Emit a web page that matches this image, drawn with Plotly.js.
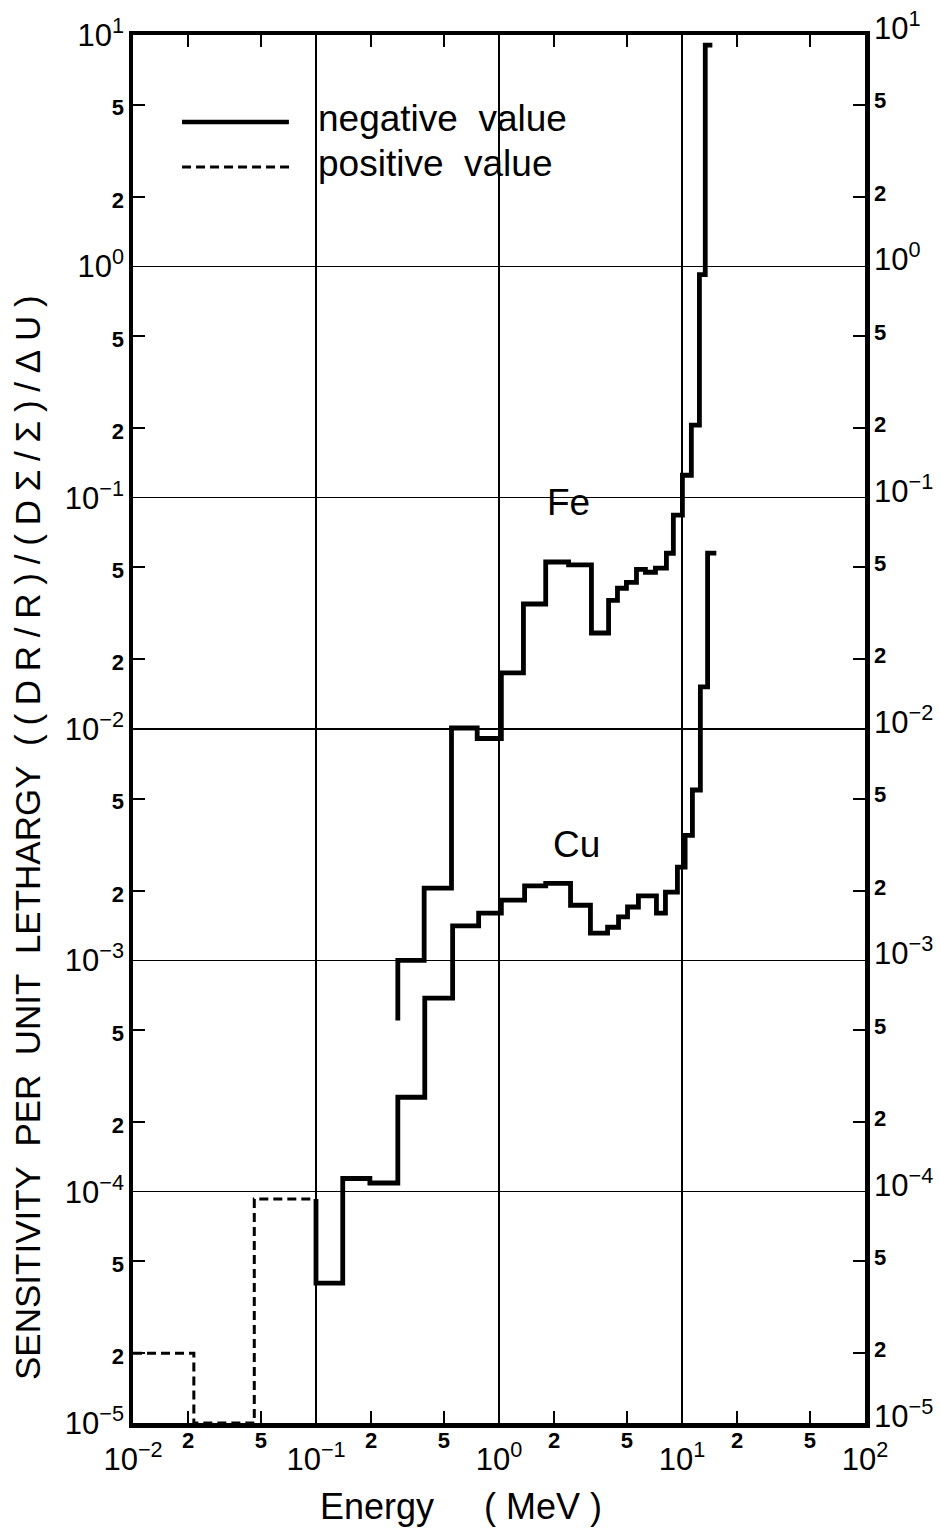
<!DOCTYPE html>
<html>
<head>
<meta charset="utf-8">
<script src="https://cdn.plot.ly/plotly-3.0.1.min.js"></script>
<style>
  html, body { margin: 0; padding: 0; background: #fff; }
  #chart { width: 940px; height: 1535px; }
</style>
</head>
<body>
<div id="chart"></div>
<script>
// Group boundaries (MeV) and sensitivity per unit lethargy, Fe (negative values)
const feEdges = [0.28, 0.39, 0.55, 0.76, 1.03, 1.36, 1.80, 2.40, 3.20, 3.97, 4.44,
                 4.97, 5.64, 6.31, 7.16, 8.22, 8.97, 10.05, 11.25, 12.45, 13.4, 14.65];
const feValues = [1.0e-3, 2.05e-3, 1.01e-2, 9.1e-3, 1.75e-2, 3.47e-2, 5.27e-2, 5.12e-2,
                  2.6e-2, 3.6e-2, 4.06e-2, 4.3e-2, 4.9e-2, 4.76e-2, 4.96e-2, 5.75e-2,
                  8.4e-2, 0.125, 0.206, 0.92, 9.05];
const feStart = 5.5e-4;

// Cu, negative part (above 0.1 MeV)
const cuEdges = [0.1, 0.14, 0.197, 0.28, 0.393, 0.558, 0.774, 1.03, 1.38, 1.80, 2.46,
                 3.16, 3.92, 4.50, 5.04, 5.78, 7.25, 8.12, 9.44, 10.4, 11.4, 12.6, 13.8, 15.4];
const cuValues = [4.02e-5, 1.14e-4, 1.09e-4, 2.56e-4, 6.87e-4, 1.41e-3, 1.60e-3, 1.82e-3,
                  2.10e-3, 2.15e-3, 1.73e-3, 1.31e-3, 1.39e-3, 1.54e-3, 1.70e-3, 1.90e-3,
                  1.60e-3, 1.97e-3, 2.53e-3, 3.47e-3, 5.45e-3, 1.52e-2, 5.76e-2];

// Cu, positive part (below 0.1 MeV)
const cuPosEdges = [0.01, 0.0215, 0.046, 0.1];
const cuPosValues = [2.0e-5, 1.0e-5, 9.3e-5];

// Axis ticks
const xMajorVals = [0.01, 0.1, 1, 10, 100];
const xMajorText = ['10<sup>\u22122</sup>', '10<sup>\u22121</sup>', '10<sup>0</sup>', '10<sup>1</sup>', '10<sup>2</sup>'];
const xMinorVals = [0.02, 0.05, 0.2, 0.5, 2, 5, 20, 50];
const xMinorText = ['2', '5', '2', '5', '2', '5', '2', '5'];
const yMajorVals = [1e-5, 1e-4, 1e-3, 1e-2, 1e-1, 1, 10];
const yMajorText = ['10<sup>\u22125</sup>', '10<sup>\u22124</sup>', '10<sup>\u22123</sup>', '10<sup>\u22122</sup>',
                    '10<sup>\u22121</sup>', '10<sup>0</sup>', '10<sup>1</sup>'];
const yMinorVals = [2e-5, 5e-5, 2e-4, 5e-4, 2e-3, 5e-3, 2e-2, 5e-2, 0.2, 0.5, 2, 5];
const yMinorText = ['2', '5', '2', '5', '2', '5', '2', '5', '2', '5', '2', '5'];

const FONT = 'Liberation Sans, Arial, Helvetica, sans-serif';
const INK = '#000';

// Turn group edges + values into the corner points of a histogram-style step line
function stepLine(edges, values, start) {
  const x = [], y = [];
  if (start !== undefined) { x.push(edges[0]); y.push(start); }
  for (let i = 0; i < values.length; i++) {
    x.push(edges[i], edges[i + 1]);
    y.push(values[i], values[i]);
  }
  return { x, y };
}

const fe = stepLine(feEdges, feValues, feStart);
const cuNeg = stepLine(cuEdges, cuValues, cuPosValues[cuPosValues.length - 1]);
const cuPos = stepLine(cuPosEdges, cuPosValues);

const solid = { color: INK, width: 4.8 };
const traces = [
  { type: 'scatter', mode: 'lines', name: 'Fe', x: fe.x, y: fe.y, line: solid },
  { type: 'scatter', mode: 'lines', name: 'Cu', x: cuNeg.x, y: cuNeg.y, line: solid },
  { type: 'scatter', mode: 'lines', name: 'Cu (positive)', x: cuPos.x, y: cuPos.y,
    line: { color: INK, width: 3, dash: '9px,5px' } },
  // empty traces that bind the label-only axes
  { type: 'scatter', x: [], y: [], xaxis: 'x2', yaxis: 'y', showlegend: false },
  { type: 'scatter', x: [], y: [], xaxis: 'x', yaxis: 'y2', showlegend: false },
  { type: 'scatter', x: [], y: [], xaxis: 'x', yaxis: 'y3', showlegend: false }
];

const minorLabel = t => '<span style="font-size:22px;font-weight:bold">' + t + '</span>';

const labelAxisCommon = {
  type: 'log', ticks: '', showgrid: false, showline: false, zeroline: false,
  tickmode: 'array', tickangle: 0, fixedrange: true
};

const majorFont = { family: FONT, size: 31, color: INK };

const layout = {
  width: 940, height: 1535,
  margin: { l: 133, r: 75, t: 35, b: 112, pad: 0 },
  paper_bgcolor: '#fff', plot_bgcolor: '#fff',
  showlegend: false,
  font: { family: FONT, color: INK },
  xaxis: {
    type: 'log', range: [-2, 2], tickmode: 'array',
    tickvals: xMajorVals, ticktext: xMajorText, ticks: '',
    tickfont: majorFont, tickangle: 0,
    ticklabelstandoff: 5,
    showline: true, linewidth: 4.5, linecolor: INK, mirror: 'allticks',
    showgrid: true, gridcolor: INK, gridwidth: 1.3, zeroline: false,
    minor: { tickmode: 'array', tickvals: xMinorVals, ticks: 'inside', ticklen: 12,
             tickwidth: 2, tickcolor: INK, showgrid: false },
    fixedrange: true
  },
  xaxis2: Object.assign({}, labelAxisCommon, {
    range: [-2, 2], overlaying: 'x', anchor: 'y', side: 'bottom',
    tickvals: xMinorVals, ticktext: xMinorText,
    tickfont: { family: FONT, size: 22, color: INK, weight: 'bold' }, ticklabelstandoff: 2
  }),
  yaxis: {
    type: 'log', range: [-5, 1], tickmode: 'array',
    tickvals: yMajorVals, showticklabels: false, ticks: '',
    showline: true, linewidth: 4.5, linecolor: INK, mirror: 'allticks',
    showgrid: true, gridcolor: INK, gridwidth: 1.3, zeroline: false,
    minor: { tickmode: 'array', tickvals: yMinorVals, ticks: 'inside', ticklen: 12,
             tickwidth: 2, tickcolor: INK, showgrid: false },
    fixedrange: true
  },
  yaxis2: Object.assign({}, labelAxisCommon, {
    range: [-5, 1], overlaying: 'y', anchor: 'x', side: 'right',
    tickvals: yMajorVals.concat(yMinorVals),
    ticktext: yMajorText.concat(yMinorText.map(minorLabel)),
    tickfont: majorFont, ticklabelstandoff: 8, ticklabelshift: -7
  }),
  yaxis3: Object.assign({}, labelAxisCommon, {
    range: [-5, 1], overlaying: 'y', anchor: 'x', side: 'left',
    tickvals: yMajorVals.concat(yMinorVals),
    ticktext: yMajorText.concat(yMinorText.map(minorLabel)),
    tickfont: majorFont, ticklabelstandoff: 8
  }),
  shapes: [
    // legend samples
    { type: 'line', xref: 'paper', yref: 'paper', x0: 0.067, x1: 0.213, y0: 0.9373, y1: 0.9373,
      line: { color: INK, width: 4.5 } },
    { type: 'line', xref: 'paper', yref: 'paper', x0: 0.067, x1: 0.218, y0: 0.9049, y1: 0.9049,
      line: { color: INK, width: 3, dash: '9px,5px' } }
  ],
  annotations: [
    { xref: 'paper', yref: 'paper', x: 0.25, y: 0.9395, xanchor: 'left', yanchor: 'middle',
      text: 'negative\u00a0 value', showarrow: false, font: { family: FONT, size: 37, color: INK } },
    { xref: 'paper', yref: 'paper', x: 0.25, y: 0.9071, xanchor: 'left', yanchor: 'middle',
      text: 'positive\u00a0 value', showarrow: false, font: { family: FONT, size: 37, color: INK } },
    { xref: 'x', yref: 'y', x: 0.38, y: -1.02, xanchor: 'center', yanchor: 'middle',
      text: 'Fe', showarrow: false, font: { family: FONT, size: 37, color: INK } },
    { xref: 'x', yref: 'y', x: 0.424, y: -2.50, xanchor: 'center', yanchor: 'middle',
      text: 'Cu', showarrow: false, font: { family: FONT, size: 37, color: INK } },
    { xref: 'paper', yref: 'paper', x: 0.448, y: -0.0605, xanchor: 'center', yanchor: 'middle',
      text: 'Energy\u00a0\u00a0\u00a0\u00a0 (\u00a0MeV\u00a0)', showarrow: false,
      font: { family: FONT, size: 36, color: INK } },
    { xref: 'paper', yref: 'paper', x: -0.1434, y: 0.4215, xanchor: 'center', yanchor: 'middle',
      textangle: -90, showarrow: false, font: { family: FONT, size: 35, color: INK },
      text: 'SENSITIVITY\u00a0\u00a0PER\u00a0\u00a0UNIT\u00a0\u00a0LETHARGY\u00a0\u00a0' +
            ['(', '(', 'D', 'R', '/', 'R', ')', '/', '(', 'D', '\u03a3', '/', '\u03a3', ')', '/', '\u0394', 'U', ')'].join('\u2005') }
  ]
};

Plotly.newPlot('chart', traces, layout, { staticPlot: true, displayModeBar: false });
</script>
</body>
</html>
